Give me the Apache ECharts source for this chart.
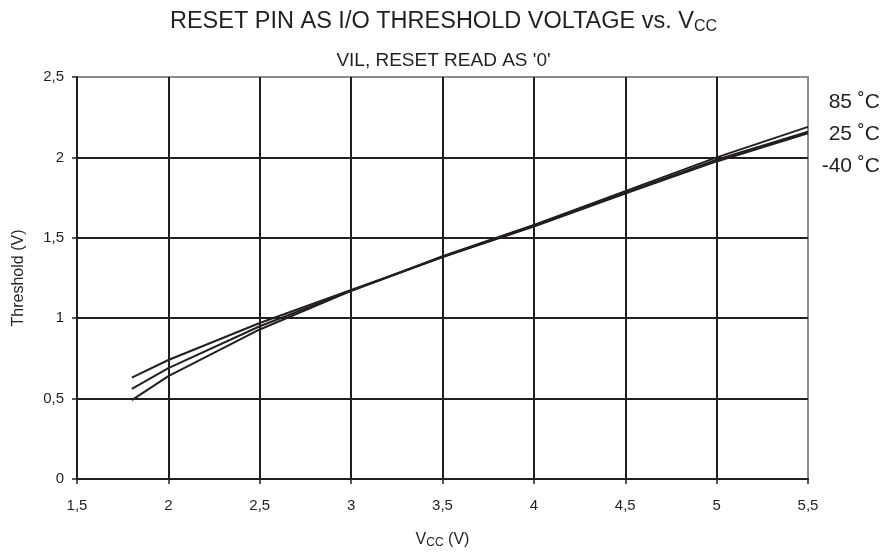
<!DOCTYPE html>
<html>
<head>
<meta charset="utf-8">
<script src="https://cdn.jsdelivr.net/npm/echarts@6/dist/echarts.min.js"></script>
<style>
    html, body {margin: 0; padding: 0; background: #fff;}
    #chart {width: 887px; height: 554px;}
</style>
</head>
<body>
<div id="chart"></div>
<script>
    // Vcc (V) sample points
    var vcc = [1.8, 2, 2.5, 3, 3.5, 4, 4.5, 5, 5.5];
    // threshold voltage (V) per temperature
    var t85 = [0.49, 0.64, 0.93, 1.17, 1.385, 1.58, 1.79, 2.0, 2.19];
    var t25 = [0.56, 0.69, 0.95, 1.17, 1.38, 1.575, 1.78, 1.985, 2.16];
    var tm40 = [0.63, 0.74, 0.97, 1.175, 1.38, 1.57, 1.775, 1.975, 2.15];
    var seriesNames = ['85 ˚C', '25 ˚C', '-40 ˚C'];

    var font = 'Liberation Sans, Arial, sans-serif';
    var ink = '#231f20';

    function pairs(ys) {
        return vcc.map(function (x, i) { return [x, ys[i]]; });
    }
    function comma(v) { return String(v).replace('.', ','); }

    var lineSeries = [t85, t25, tm40].map(function (ys, i) {
        return {
            name: seriesNames[i], type: 'line', symbol: 'none', smooth: false,
            lineStyle: {color: ink, width: 2}, data: pairs(ys)
        };
    });

    var chart = echarts.init(document.getElementById('chart'));
    chart.setOption({
        animation: false,
        textStyle: {fontFamily: font},
        title: [{
            text: 'RESET PIN AS I/O THRESHOLD VOLTAGE vs. V{sub|CC}',
            left: 'center', top: 4,
            textStyle: {
                fontSize: 23.5, fontWeight: 'normal', color: ink, fontFamily: font,
                rich: {sub: {fontSize: 16, color: ink, verticalAlign: 'bottom', padding: [10, 0, 0, 0], fontFamily: font}}
            }
        }, {
            text: "VIL, RESET READ AS '0'",
            left: 'center', top: 46,
            textStyle: {fontSize: 19, fontWeight: 'normal', color: ink, fontFamily: font}
        }],
        grid: {
            left: 77, right: 79, top: 77, bottom: 72,
            show: true, borderColor: '#8c8c8c', borderWidth: 2
        },
        xAxis: {
            type: 'value', min: 1.5, max: 5.5, interval: 0.5,
            axisLine: {show: true, lineStyle: {color: ink, width: 2}},
            axisTick: {show: true, length: 5, lineStyle: {color: ink, width: 1.5}},
            axisLabel: {color: ink, fontSize: 15, margin: 19, formatter: comma},
            splitLine: {show: true, showMaxLine: false, lineStyle: {color: ink, width: 2}},
            name: 'V{sub|CC} (V)', nameLocation: 'middle', nameGap: 52,
            nameTextStyle: {
                color: ink, fontSize: 16,
                rich: {sub: {fontSize: 12, color: ink, verticalAlign: 'bottom', padding: [6, 0, 0, 0]}}
            }
        },
        yAxis: {
            type: 'value', min: 0, max: 2.5, interval: 0.5,
            axisLine: {show: true, lineStyle: {color: ink, width: 2}},
            axisTick: {show: true, length: 5, lineStyle: {color: ink, width: 1.5}},
            axisLabel: {color: ink, fontSize: 15, margin: 13, formatter: comma},
            splitLine: {show: true, showMaxLine: false, lineStyle: {color: ink, width: 2}},
            name: 'Threshold (V)', nameLocation: 'middle', nameGap: 50, nameRotate: 90,
            nameTextStyle: {color: ink, fontSize: 16}
        },
        series: lineSeries,
        graphic: [
            {type: 'text', right: 7, top: 92, style: {text: seriesNames[0], font: '21px ' + font, fill: ink}},
            {type: 'text', right: 7, top: 124, style: {text: seriesNames[1], font: '21px ' + font, fill: ink}},
            {type: 'text', right: 7, top: 156, style: {text: seriesNames[2], font: '21px ' + font, fill: ink}}
        ]
    });
</script>
</body>
</html>
